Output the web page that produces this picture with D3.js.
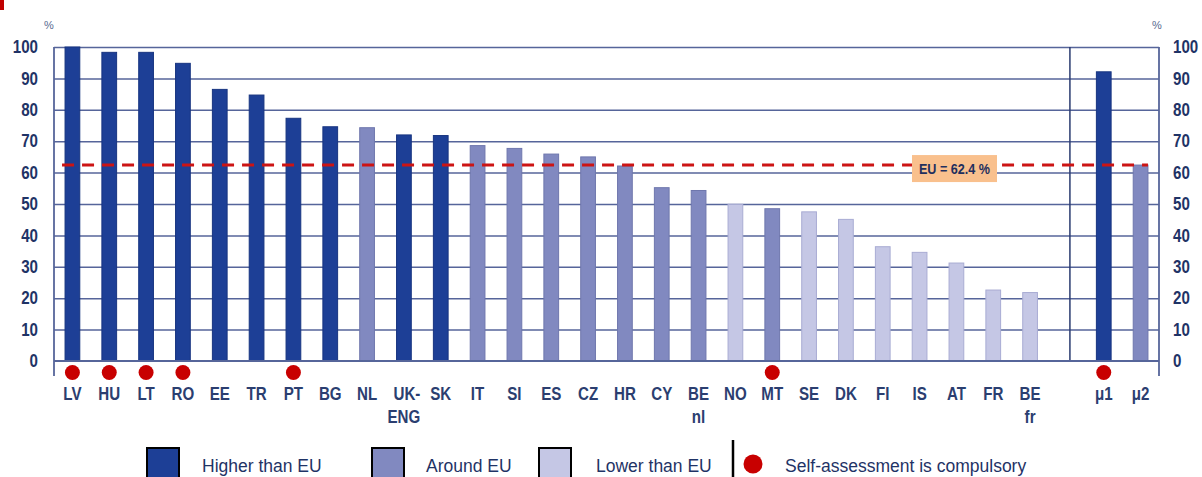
<!DOCTYPE html>
<html>
<head>
<meta charset="utf-8">
<script src="https://cdn.jsdelivr.net/npm/d3@7"></script>
<style>
  html, body { margin: 0; padding: 0; background: #ffffff; }
  svg { display: block; font-family: "Liberation Sans", Arial, sans-serif; }
</style>
</head>
<body>
<svg id="chart" width="1202" height="477"></svg>
<script>
// Categories, in the order they are drawn
const countries = ["LV","HU","LT","RO","EE","TR","PT","BG","NL","UK-ENG","SK","IT","SI","ES","CZ","HR","CY","BE nl","NO","MT","SE","DK","FI","IS","AT","FR","BE fr"];
const countryValues = [100, 98.3, 98.3, 94.8, 86.5, 84.7, 77.3, 74.6, 74.3, 72.0, 71.8, 68.6, 67.7, 65.9, 65.0, 62.1, 55.2, 54.3, 49.9, 48.5, 47.5, 45.1, 36.4, 34.6, 31.2, 22.6, 21.8];
const countryGroups = ["H","H","H","H","H","H","H","H","A","H","H","A","A","A","A","A","A","A","L","A","L","L","L","L","L","L","L"];

// Averages shown to the right of the separator
const averages = ["μ1", "μ2"];
const averageValues = [92.1, 62.4];
const averageGroups = ["H", "A"];

// Categories where self-assessment is compulsory
const compulsory = ["LV","HU","LT","RO","PT","MT","μ1"];

const euValue = 62.4;
const yTicks = [0, 10, 20, 30, 40, 50, 60, 70, 80, 90, 100];

const groupNames = { H: "Higher than EU", A: "Around EU", L: "Lower than EU" };
const groupColors = { H: "#1d3f96", A: "#8189c0", L: "#c5c7e5" };
const groupStroke = { H: "#183580", A: "#6f77ad", L: "#a9acd3" };

const GAP = "__gap__";
const rows = countries.map((c, i) => ({ key: c, value: countryValues[i], group: countryGroups[i] }))
  .concat(averages.map((c, i) => ({ key: c, value: averageValues[i], group: averageGroups[i] })));
const domain = countries.concat([GAP], averages);

const svg = d3.select("#chart");
const plotLeft = 54, plotRight = 1159, plotTop = 47, plotBottom = 361;
const textColor = "#1f3366";
const gridColor = "#56659a";

// squeeze bold labels horizontally to get a condensed face
function condense(sel, factor) {
  sel.each(function() {
    const w = this.getComputedTextLength();
    d3.select(this).attr("textLength", w * factor).attr("lengthAdjust", "spacingAndGlyphs");
  });
}

const x = d3.scaleBand().domain(domain).range([plotLeft, plotRight]).paddingInner(0.6).paddingOuter(0.3);
const y = d3.scaleLinear().domain([0, 100]).range([plotBottom, plotTop]);

// small red marker in the top-left corner
svg.append("rect").attr("x", 0).attr("y", 0).attr("width", 4).attr("height", 10).attr("fill", "#c00000");

// horizontal gridlines
svg.append("g")
  .attr("transform", `translate(${plotLeft},0)`)
  .call(d3.axisLeft(y).tickValues(yTicks.filter(t => t > 0)).tickSize(-(plotRight - plotLeft)).tickFormat(""))
  .call(g => g.select(".domain").remove())
  .call(g => g.selectAll(".tick line").attr("stroke", gridColor).attr("stroke-width", 1.5));

// separator between countries and averages
const sepX = x(GAP) + x.bandwidth() / 2 + 3;
svg.append("line").attr("x1", sepX).attr("x2", sepX).attr("y1", plotTop).attr("y2", plotBottom)
  .attr("stroke", "#2a3b70").attr("stroke-width", 1.5);

// bars
svg.append("g").selectAll("rect").data(rows).join("rect")
  .attr("x", d => x(d.key))
  .attr("width", x.bandwidth())
  .attr("y", d => y(d.value))
  .attr("height", d => y(0) - y(d.value))
  .attr("fill", d => groupColors[d.group])
  .attr("stroke", d => groupStroke[d.group])
  .attr("stroke-width", 1);

// axis frame lines
svg.append("line").attr("x1", plotLeft).attr("x2", plotRight).attr("y1", plotBottom).attr("y2", plotBottom)
  .attr("stroke", gridColor).attr("stroke-width", 1.8);
svg.append("line").attr("x1", plotLeft).attr("x2", plotLeft).attr("y1", plotTop).attr("y2", 376)
  .attr("stroke", gridColor).attr("stroke-width", 1.8);
svg.append("line").attr("x1", plotRight).attr("x2", plotRight).attr("y1", plotTop).attr("y2", 376)
  .attr("stroke", gridColor).attr("stroke-width", 1.8);

// tick labels on both sides
const tickStyle = g => g.call(s => s.select(".domain").remove())
  .call(s => s.selectAll(".tick line").remove())
  .call(s => s.selectAll(".tick text")
    .attr("fill", textColor).attr("font-size", 18).attr("font-weight", "bold")
    .attr("font-family", "'Liberation Sans', Arial, sans-serif")
    .call(condense, 0.84));
svg.append("g").attr("transform", `translate(${plotLeft - 16},0)`)
  .call(d3.axisLeft(y).tickValues(yTicks).tickSize(0).tickPadding(0))
  .call(tickStyle);
svg.append("g").attr("transform", `translate(${plotRight + 14},0)`)
  .call(d3.axisRight(y).tickValues(yTicks).tickSize(0).tickPadding(0))
  .call(tickStyle);

// unit labels
svg.append("text").attr("x", 49).attr("y", 29).attr("text-anchor", "middle")
  .attr("fill", "#5a6a90").attr("font-size", 11).text("%");
svg.append("text").attr("x", 1157).attr("y", 29).attr("text-anchor", "middle")
  .attr("fill", "#5a6a90").attr("font-size", 11).text("%");

// EU average line with its label
svg.append("line")
  .attr("x1", x("LV") - 3).attr("x2", x("μ2") + x.bandwidth())
  .attr("y1", y(euValue)).attr("y2", y(euValue))
  .attr("stroke", "#cc1414").attr("stroke-width", 3).attr("stroke-dasharray", "12,8");
const euLabelX = 912, euLabelW = 85;
svg.append("rect").attr("x", euLabelX).attr("y", y(euValue) - 10).attr("width", euLabelW).attr("height", 27)
  .attr("fill", "#f9c08d");
svg.append("text").attr("x", euLabelX + euLabelW / 2).attr("y", y(euValue) + 8.5)
  .attr("text-anchor", "middle")
  .attr("fill", "#1f2f5e").attr("font-size", 15).attr("font-weight", "bold").text(`EU = ${euValue} %`)
  .call(condense, 0.84);

// red dots: self-assessment compulsory
svg.append("g").selectAll("circle").data(compulsory).join("circle")
  .attr("cx", d => x(d) + x.bandwidth() / 2)
  .attr("cy", 372.5)
  .attr("r", 7.5)
  .attr("fill", "#c80000");

// category labels (some wrap onto two lines)
const labelLines = k => {
  if (k === "UK-ENG") return ["UK-", "ENG"];
  if (k.includes(" ")) return k.split(" ");
  return [k];
};
const labels = svg.append("g").selectAll("text").data(domain.filter(d => d !== GAP)).join("text")
  .attr("x", d => x(d) + x.bandwidth() / 2)
  .attr("y", 400)
  .attr("text-anchor", "middle")
  .attr("fill", "#2b3e70")
  .attr("font-size", 18)
  .attr("font-weight", "bold");
labels.each(function(d) {
  const t = d3.select(this);
  labelLines(d).forEach((line, i) => {
    t.append("tspan").attr("x", x(d) + x.bandwidth() / 2 + (d === "UK-ENG" && i === 0 ? 3 : 0))
      .attr("dy", i === 0 ? 0 : 23).text(line);
  });
});
labels.selectAll("tspan").call(condense, 0.84);

// legend
const legend = svg.append("g");
const legendItems = [
  { g: "H", bx: 147, tx: 202 },
  { g: "A", bx: 372, tx: 426 },
  { g: "L", bx: 539, tx: 596 }
];
legendItems.forEach(it => {
  legend.append("rect").attr("x", it.bx).attr("y", 448).attr("width", 32).attr("height", 34)
    .attr("fill", groupColors[it.g]).attr("stroke", "#000").attr("stroke-width", 2);
  legend.append("text").attr("x", it.tx).attr("y", 472).attr("fill", "#1f3366")
    .attr("font-size", 17.5).text(groupNames[it.g]);
});
legend.append("line").attr("x1", 733).attr("x2", 733).attr("y1", 440).attr("y2", 477)
  .attr("stroke", "#000").attr("stroke-width", 2.5);
legend.append("circle").attr("cx", 753).attr("cy", 464).attr("r", 9.5).attr("fill", "#c80000");
legend.append("text").attr("x", 785).attr("y", 472).attr("fill", "#1f3366")
  .attr("font-size", 17.5).text("Self-assessment is compulsory");
</script>
</body>
</html>
